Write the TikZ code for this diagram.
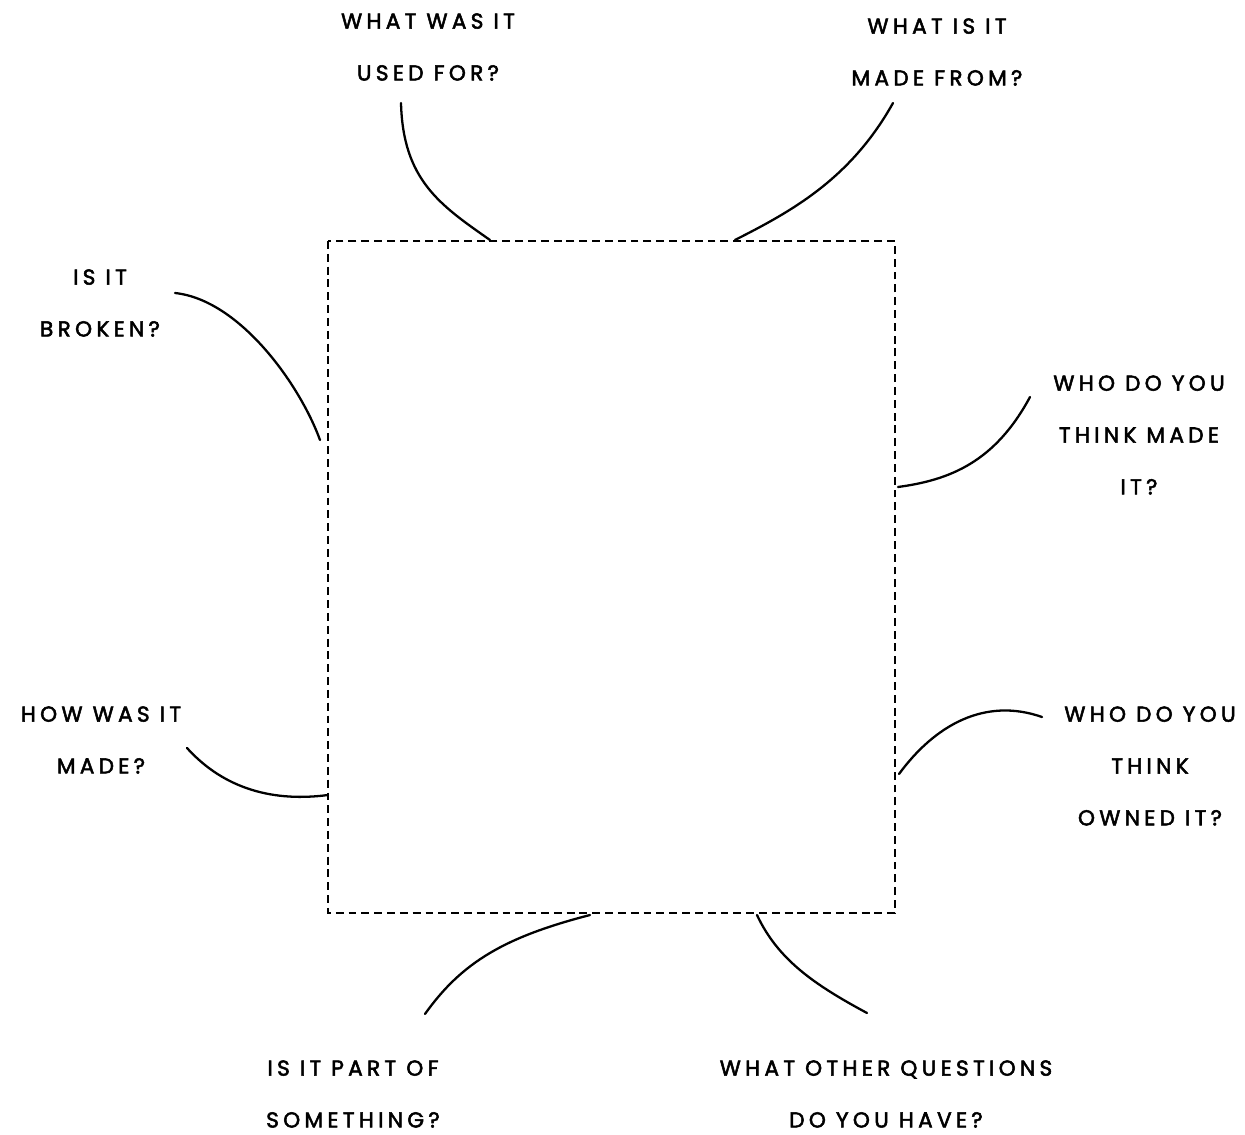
\documentclass[tikz,border=0pt]{standalone}
\usepackage{fontspec}
\setmainfont{Poppins}[LetterSpace=20, FakeBold=2.4]
\usepackage{tikz}
\usetikzlibrary{positioning, calc}

\tikzset{
  question/.style={align=center, font=\fontsize{12.3}{29.5}\selectfont, inner sep=0pt},
  frame/.style={line width=1.3pt, dash pattern=on 4.5pt off 2.8pt},
  link/.style={line width=1.3pt, line cap=round}
}

\begin{document}
\begin{tikzpicture}[x=0.02cm, y=-0.02cm]
  % canvas in pixel units (1245 x 1135, y downwards)
  \useasboundingbox (0,0) rectangle (1245,1135);

  % empty dashed frame for the object
  \draw[frame] (328,241) rectangle (895,913);

  % questions round the frame
  \node[question] (used)   at (428,47)   {WHAT WAS IT\\USED FOR?};
  \node[question] (from)   at (937,52)   {WHAT IS IT\\MADE FROM?};
  \node[question] (broken) at (100,303)  {IS IT\\BROKEN?};
  \node[question] (maker)  at (1139,435) {WHO DO YOU\\THINK MADE\\IT?};
  \node[question] (how)    at (101,740)  {HOW WAS IT\\MADE?};
  \node[question] (owner)  at (1150,766) {WHO DO YOU\\THINK\\OWNED IT?};
  \node[question] (part)   at (353,1094) {IS IT PART OF\\SOMETHING?};
  \node[question] (other)  at (886,1094) {WHAT OTHER QUESTIONS\\DO YOU HAVE?};

  % loose ends of the links, next to each question
  \coordinate (used-e)   at (401,103);
  \coordinate (from-e)   at (893,103);
  \coordinate (broken-e) at (175,293);
  \coordinate (maker-e)  at (1030,397);
  \coordinate (how-e)    at (187,748);
  \coordinate (owner-e)  at (1042,717);
  \coordinate (part-e)   at (425,1014);
  \coordinate (other-e)  at (867,1013);

  % where they touch the frame
  \coordinate (used-f)   at (490,240);
  \coordinate (from-f)   at (735,240);
  \coordinate (broken-f) at (320,440);
  \coordinate (maker-f)  at (898,487);
  \coordinate (how-f)    at (328,795);
  \coordinate (owner-f)  at (899,774);
  \coordinate (part-f)   at (590,915);
  \coordinate (other-f)  at (757,915);

  \draw[link] (used-e)   .. controls (403,180) and (440,205) .. (used-f);
  \draw[link] (from-e)   .. controls (850,180) and (790,212) .. (from-f);
  \draw[link] (broken-e) .. controls (240,300) and (300,385) .. (broken-f);
  \draw[link] (maker-e)  .. controls (995,462) and (950,480) .. (maker-f);
  \draw[link] (how-e)    .. controls (225,790) and (275,802) .. (how-f);
  \draw[link] (owner-e)  .. controls (985,697) and (935,725) .. (owner-f);
  \draw[link] (part-f)   .. controls (505,937) and (462,962) .. (part-e);
  \draw[link] (other-f)  .. controls (778,960) and (815,985) .. (other-e);
\end{tikzpicture}
\end{document}
